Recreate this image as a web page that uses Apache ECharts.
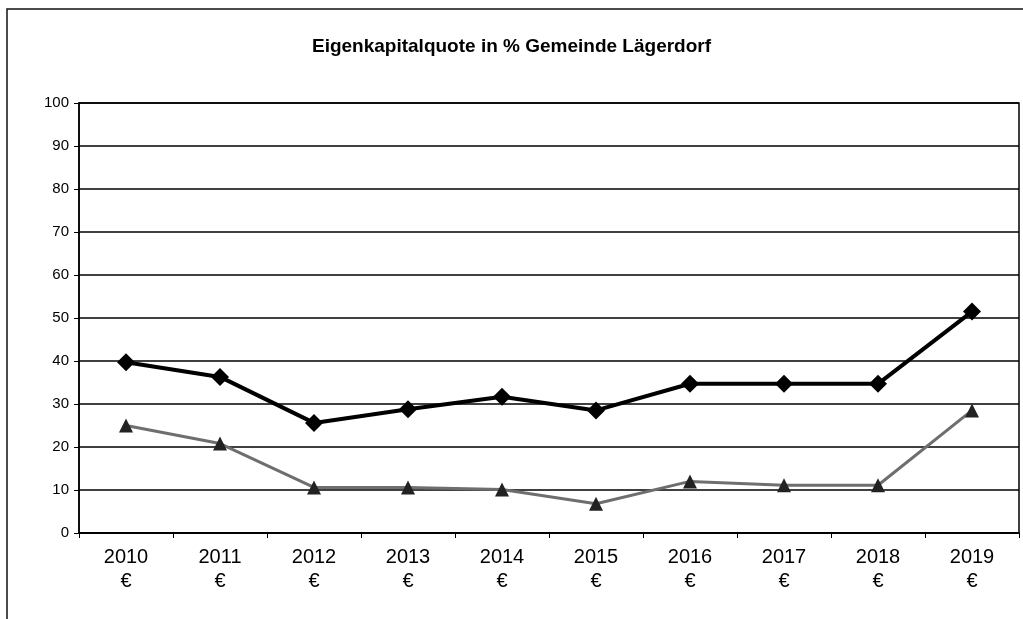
<!DOCTYPE html>
<html>
<head>
<meta charset="utf-8">
<script src="https://cdn.jsdelivr.net/npm/echarts@6/dist/echarts.min.js"></script>
<style>
  html, body { margin: 0; padding: 0; background: #fff; }
  #chart { width: 1023px; height: 619px; }
</style>
</head>
<body>
<div id="chart"></div>
<script>
const years = ['2010', '2011', '2012', '2013', '2014', '2015', '2016', '2017', '2018', '2019']
const quoteA = [39.7, 36.3, 25.6, 28.8, 31.7, 28.5, 34.7, 34.7, 34.7, 51.5]
const quoteB = [25.0, 20.8, 10.6, 10.6, 10.1, 6.8, 12.0, 11.1, 11.1, 28.5]
const yTicks = [0, 10, 20, 30, 40, 50, 60, 70, 80, 90, 100]

const chart = echarts.init(document.getElementById('chart'), null, { renderer: 'canvas' })

const font = 'Arial, "Liberation Sans", sans-serif'

chart.setOption({
  animation: false,
  backgroundColor: '#fff',
  title: {
    text: 'Eigenkapitalquote in % Gemeinde Lägerdorf',
    left: 'center',
    top: 32,
    textStyle: { fontFamily: font, fontSize: 19, fontWeight: 'bold', color: '#000' },
  },
  graphic: [
    {
      type: 'rect',
      shape: { x: 7, y: 9, width: 1040, height: 700 },
      style: { fill: 'none', stroke: '#111', lineWidth: 1.5 },
      silent: true,
    },
  ],
  grid: {
    left: 79,
    right: 4,
    top: 103,
    bottom: 86,
    show: true,
    borderColor: '#000',
    borderWidth: 1.5,
    containLabel: false,
  },
  xAxis: {
    type: 'category',
    data: years,
    boundaryGap: true,
    axisLine: { lineStyle: { color: '#000', width: 2 } },
    axisTick: { show: true, length: 5, lineStyle: { color: '#000' } },
    axisLabel: {
      color: '#000',
      fontFamily: font,
      fontSize: 20,
      lineHeight: 24,
      margin: 12,
      formatter: (v) => v + '\n€',
    },
  },
  yAxis: {
    type: 'value',
    min: yTicks[0],
    max: yTicks[yTicks.length - 1],
    interval: 10,
    axisLine: { show: true, lineStyle: { color: '#000', width: 1.5 } },
    axisTick: { show: true, length: 5, lineStyle: { color: '#000' } },
    axisLabel: { color: '#000', fontFamily: font, fontSize: 15, margin: 10 },
    splitLine: { lineStyle: { color: '#000', width: 1.5 } },
  },
  series: [
    {
      name: 'Eigenkapitalquote',
      type: 'line',
      data: quoteA,
      symbol: 'diamond',
      symbolSize: 18,
      lineStyle: { color: '#000', width: 4 },
      itemStyle: { color: '#000' },
      z: 3,
    },
    {
      name: 'Eigenkapitalquote 2',
      type: 'line',
      data: quoteB,
      symbol: 'triangle',
      symbolSize: 14,
      lineStyle: { color: '#6e6e6e', width: 3 },
      itemStyle: { color: '#222' },
      z: 2,
    },
  ],
})
</script>
</body>
</html>
